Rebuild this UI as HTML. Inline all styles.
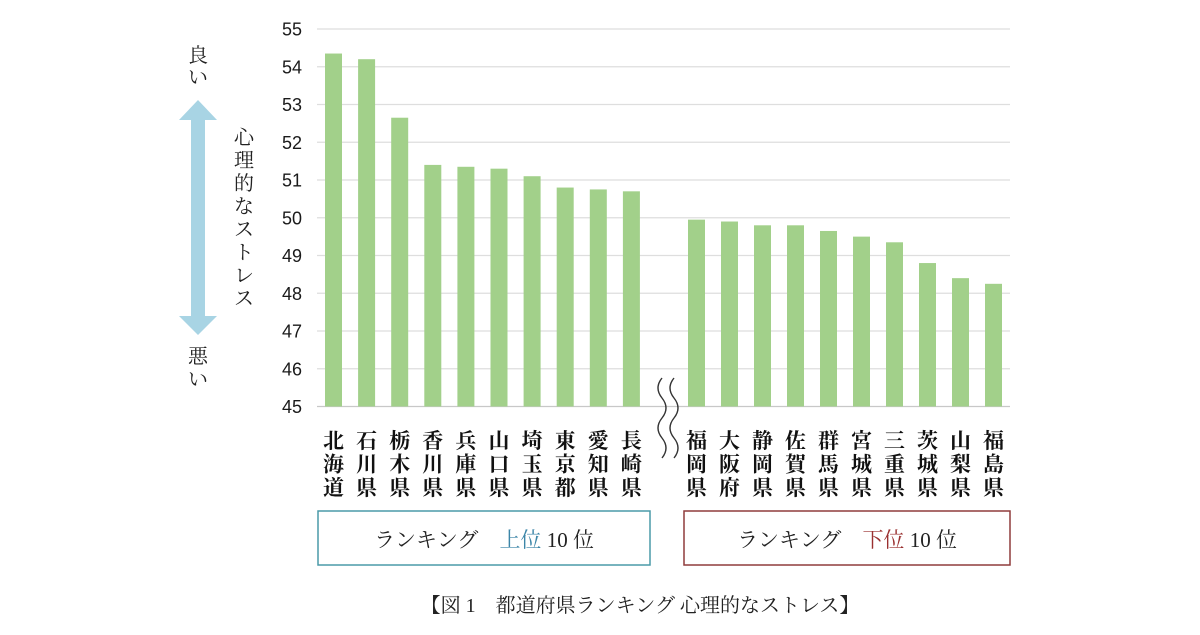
<!DOCTYPE html>
<html><head><meta charset="utf-8"><style>
body{margin:0;background:#fff;width:1200px;height:630px;overflow:hidden}
svg text{font-family:"Liberation Serif","Noto Serif CJK JP",serif}
.sans{font-family:"Liberation Sans","Noto Sans CJK JP",sans-serif}
</style></head><body>
<svg id="chart" width="1200" height="630" xmlns="http://www.w3.org/2000/svg">
<g id="grid"></g><g id="bars"></g><g id="labels"></g>
</svg>
<script>
const topNames=["北海道","石川県","栃木県","香川県","兵庫県","山口県","埼玉県","東京都","愛知県","長崎県"];
const topValues=[54.35,54.2,52.65,51.4,51.35,51.3,51.1,50.8,50.75,50.7];
const bottomNames=["福岡県","大阪府","静岡県","佐賀県","群馬県","宮城県","三重県","茨城県","山梨県","福島県"];
const bottomValues=[49.95,49.9,49.8,49.8,49.65,49.5,49.35,48.8,48.4,48.25];
const yTicks=[45,46,47,48,49,50,51,52,53,54,55];

const NS="http://www.w3.org/2000/svg";
const svg=document.getElementById('chart');
const y0=406.5,y1=29,vmin=45,vmax=55;
const y=v=>y0-(v-vmin)/(vmax-vmin)*(y0-y1);
const xTop=i=>325+i*33.1;
const xBot=i=>688+i*33;
function mk(tag,attrs,parent,text){const e=document.createElementNS(NS,tag);for(const k in attrs)e.setAttribute(k,attrs[k]);if(text!==undefined)e.textContent=text;(parent||svg).appendChild(e);return e;}
const grid=document.getElementById('grid'),bars=document.getElementById('bars'),labels=document.getElementById('labels');
yTicks.forEach(t=>{
  const l=mk('line',{x1:317,x2:1010,y1:y(t),y2:y(t),stroke:t===45?'#c8c8c8':'#dedede','stroke-width':1.3},grid);
  
  
  const tx=mk('text',{x:302,y:y(t)+6.5,'text-anchor':'end','font-size':18,fill:'#1a1a1a',class:'sans'},labels,t);
  
  
});
function drawGroup(names,vals,xf,grp){
  vals.forEach((v,i)=>{
    const r=mk('rect',{x:xf(i),y:y(v),width:17,height:y0-y(v),fill:'#a2d08a'},bars);
    
    
    const g=mk('g',{},labels);
    
    
    [...names[i]].forEach((c,j)=>mk('text',{x:xf(i)+8.5,y:448+j*23.5,'text-anchor':'middle','font-size':21,fill:'#111','font-weight':'bold'},g,c));
  });
}
drawGroup(topNames,topValues,xTop,'top');
drawGroup(bottomNames,bottomValues,xBot,'bottom');
</script>
<svg style="position:absolute;left:0;top:0" width="1200" height="630" xmlns="http://www.w3.org/2000/svg">
<g fill="none" stroke="#333" stroke-width="1.4">
<path d="M662 378 q-8 10 0 20 q8 10 0 20 q-8 10 0 20 q8 10 0 20"/>
<path d="M674 378 q-8 10 0 20 q8 10 0 20 q-8 10 0 20 q8 10 0 20"/>
</g>
<g fill="#a8d4e4">
<polygon points="198,100 217,120 205,120 205,316 217,316 198,335 179,316 191,316 191,120 179,120"/>
</g>
<g font-size="20" fill="#222" font-family="Liberation Serif,Noto Serif CJK JP,serif" text-anchor="middle">
<text x="198" y="62">良</text><text x="198" y="84">い</text></g>
<g font-size="20" fill="#222" font-family="Liberation Serif,Noto Serif CJK JP,serif" text-anchor="middle">
<text x="198" y="363">悪</text><text x="198" y="386">い</text></g>
<g font-size="20" fill="#222" font-family="Liberation Serif,Noto Serif CJK JP,serif" text-anchor="middle">
<text x="244" y="144">心</text><text x="244" y="167">理</text><text x="244" y="190">的</text><text x="244" y="213">な</text><text x="244" y="236">ス</text><text x="244" y="259">ト</text><text x="244" y="282">レ</text><text x="244" y="305">ス</text></g>
<g>
<rect x="318" y="511" width="332" height="54" fill="none" stroke="#4a9aa8" stroke-width="1.5"/>
<text x="484" y="547" text-anchor="middle" font-size="21" fill="#222" font-family="Liberation Serif,Noto Serif CJK JP,serif">ランキング　<tspan fill="#3c86a8">上位</tspan> 10 位</text></g>
<g>
<rect x="684" y="511" width="326" height="54" fill="none" stroke="#8f3c3c" stroke-width="1.5"/>
<text x="847" y="547" text-anchor="middle" font-size="21" fill="#222" font-family="Liberation Serif,Noto Serif CJK JP,serif">ランキング　<tspan fill="#9a3030">下位</tspan> 10 位</text></g>
<text x="640" y="612" text-anchor="middle" font-size="20" fill="#222" font-family="Liberation Serif,Noto Serif CJK JP,serif">【図 1　都道府県ランキング 心理的なストレス】</text>
</svg>
</body></html>
